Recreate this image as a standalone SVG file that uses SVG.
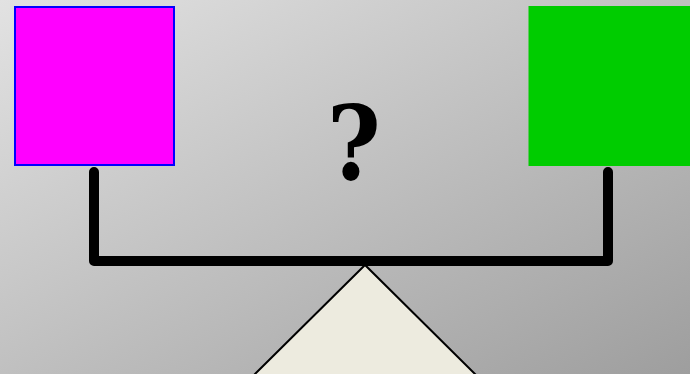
<svg xmlns="http://www.w3.org/2000/svg" width="690" height="374" viewBox="0 0 690 374">
<defs>
<linearGradient id="bg" x1="0" y1="0" x2="1" y2="1">
<stop offset="0" stop-color="#e2e2e2"/>
<stop offset="1" stop-color="#9e9e9e"/>
</linearGradient>
</defs>
<style>
.beam{fill:none;stroke:#000;stroke-width:10;stroke-linecap:round;stroke-linejoin:round}
.q{font-family:"DejaVu Serif Condensed","DejaVu Serif",serif;font-stretch:condensed;font-weight:bold;font-size:102px;text-anchor:middle;fill:#000}
</style>
<rect x="0" y="0" width="690" height="374" fill="url(#bg)"/>
<g id="connectors">
<path class="beam" d="M94,172 V261 H608 V172"/>
</g>
<g id="fulcrum">
<path d="M365,265 L254,375 L476,375 Z" fill="#edebdf" stroke="#000" stroke-width="2"/>
</g>
<g id="left-weight">
<rect x="15" y="7" width="159" height="158" fill="#ff00ff" stroke="#0000ff" stroke-width="2"/>
</g>
<g id="right-weight">
<rect x="528.5" y="6" width="162" height="160" fill="#00cc00"/>
</g>
<g id="question">
<text class="q" x="354" y="180">?</text>
</g>
</svg>
